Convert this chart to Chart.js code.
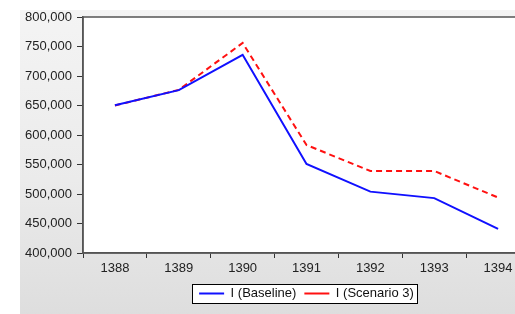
<!DOCTYPE html>
<html lang="en">
<head>
    <meta charset="UTF-8">
    <title>I (Baseline) vs I (Scenario 3)</title>
    <style>
        body {
            margin: 0;
            background: #fff;
            overflow: hidden;
            font-family: 'Liberation Sans', Arial, sans-serif;
        }
        #panel {
            position: absolute;
            left: 20px;
            top: 10px;
            width: 520px;
            height: 310px;
            background: linear-gradient(to bottom, #f4f4f4 0%, #ebebeb 55%, #dddddd 100%);
        }
        #wrap {
            position: absolute;
            left: 0;
            top: 0;
            width: 540px;
            height: 314px;
        }
    </style>
</head>
<body>
    <div id="panel"></div>
    <div id="wrap">
        <canvas id="myChart"></canvas>
    </div>

    <script src="https://cdn.jsdelivr.net/npm/chart.js"></script>
    <script>
const years = ['1388', '1389', '1390', '1391', '1392', '1393', '1394'];
const baseline = [650500, 676000, 736000, 551000, 504000, 493000, 441000];
const scenario3 = [650000, 676500, 756000, 583000, 539000, 539000, 494000];
const yTicks = [400000, 450000, 500000, 550000, 600000, 650000, 700000, 750000, 800000];

function legendRect(chart) {
    const items = chart.legend.legendHitBoxes;
    if (!items || !items.length) return null;
    const last = items[items.length - 1];
    const x0 = Math.round(items[0].left - 7);
    const x1 = Math.round(last.left + last.width + 3);
    const y0 = Math.round(items[0].top - 3);
    const y1 = Math.round(items[0].top + items[0].height + 3);
    return { x0, y0, w: x1 - x0, h: y1 - y0 };
}

// white plot area, frame round it, boxed legend
const plotFrame = {
    id: 'plotFrame',
    beforeDraw(chart) {
        const a = chart.chartArea;
        const c = chart.ctx;
        c.save();
        c.fillStyle = '#fff';
        c.fillRect(a.left, a.top, a.right - a.left, a.bottom - a.top);
        const r = legendRect(chart);
        if (r) c.fillRect(r.x0, r.y0, r.w, r.h);
        c.restore();
    },
    afterDraw(chart) {
        const a = chart.chartArea;
        const c = chart.ctx;
        c.save();
        c.strokeStyle = '#555';
        c.lineWidth = 1.5;
        c.strokeRect(a.left, a.top, a.right - a.left, a.bottom - a.top);
        const r = legendRect(chart);
        if (r) {
            c.strokeStyle = '#000';
            c.lineWidth = 1;
            c.strokeRect(r.x0 + 0.5, r.y0 + 0.5, r.w, r.h);
        }
        c.restore();
    }
};

const ctx = document.getElementById('myChart').getContext('2d');
const myChart = new Chart(ctx, {
    type: 'line',
    data: {
        labels: years,
        datasets: [{
            label: 'I (Baseline)',
            data: baseline,
            borderColor: '#1010ff',
            backgroundColor: '#1010ff',
            borderWidth: 2,
            pointRadius: 0,
            tension: 0,
            fill: false
        }, {
            label: 'I (Scenario 3)',
            data: scenario3,
            borderColor: '#ff1010',
            backgroundColor: '#ff1010',
            borderWidth: 2,
            borderDash: [6, 4],
            pointRadius: 0,
            tension: 0,
            fill: false
        }]
    },
    options: {
        responsive: true,
        maintainAspectRatio: false,
        animation: false,
        layout: {
            padding: { left: 0, right: 10, top: 17, bottom: 4 }
        },
        plugins: {
            tooltip: { enabled: false },
            legend: {
                position: 'bottom',
                fullSize: false,
                labels: {
                    usePointStyle: true,
                    pointStyle: 'line',
                    pointStyleWidth: 25,
                    boxWidth: 25,
                    boxHeight: 2,
                    padding: 8,
                    color: '#111',
                    font: { family: "'Liberation Sans', Arial, sans-serif", size: 13 }
                }
            }
        },
        scales: {
            x: {
                offset: true,
                border: { color: '#555', width: 1.5 },
                grid: {
                    offset: true,
                    drawOnChartArea: false,
                    drawTicks: true,
                    tickLength: 5,
                    color: '#333'
                },
                ticks: {
                    color: '#222',
                    padding: 3,
                    maxRotation: 0,
                    font: { family: "'Liberation Sans', Arial, sans-serif", size: 13 }
                },
                afterFit(scale) { scale.height = 26; }
            },
            y: {
                min: 400000,
                max: 800000,
                border: { color: '#555', width: 1.5 },
                afterBuildTicks(scale) {
                    scale.ticks = yTicks.map(v => ({ value: v }));
                },
                grid: {
                    drawOnChartArea: false,
                    drawTicks: true,
                    tickLength: 6,
                    color: '#333'
                },
                ticks: {
                    color: '#222',
                    padding: 5,
                    font: { family: "'Liberation Sans', Arial, sans-serif", size: 13 },
                    callback: function(value) { return value.toLocaleString('en-US'); }
                },
                afterFit(scale) { scale.width = 83; }
            }
        }
    },
    plugins: [plotFrame]
});
    </script>
</body>
</html>
